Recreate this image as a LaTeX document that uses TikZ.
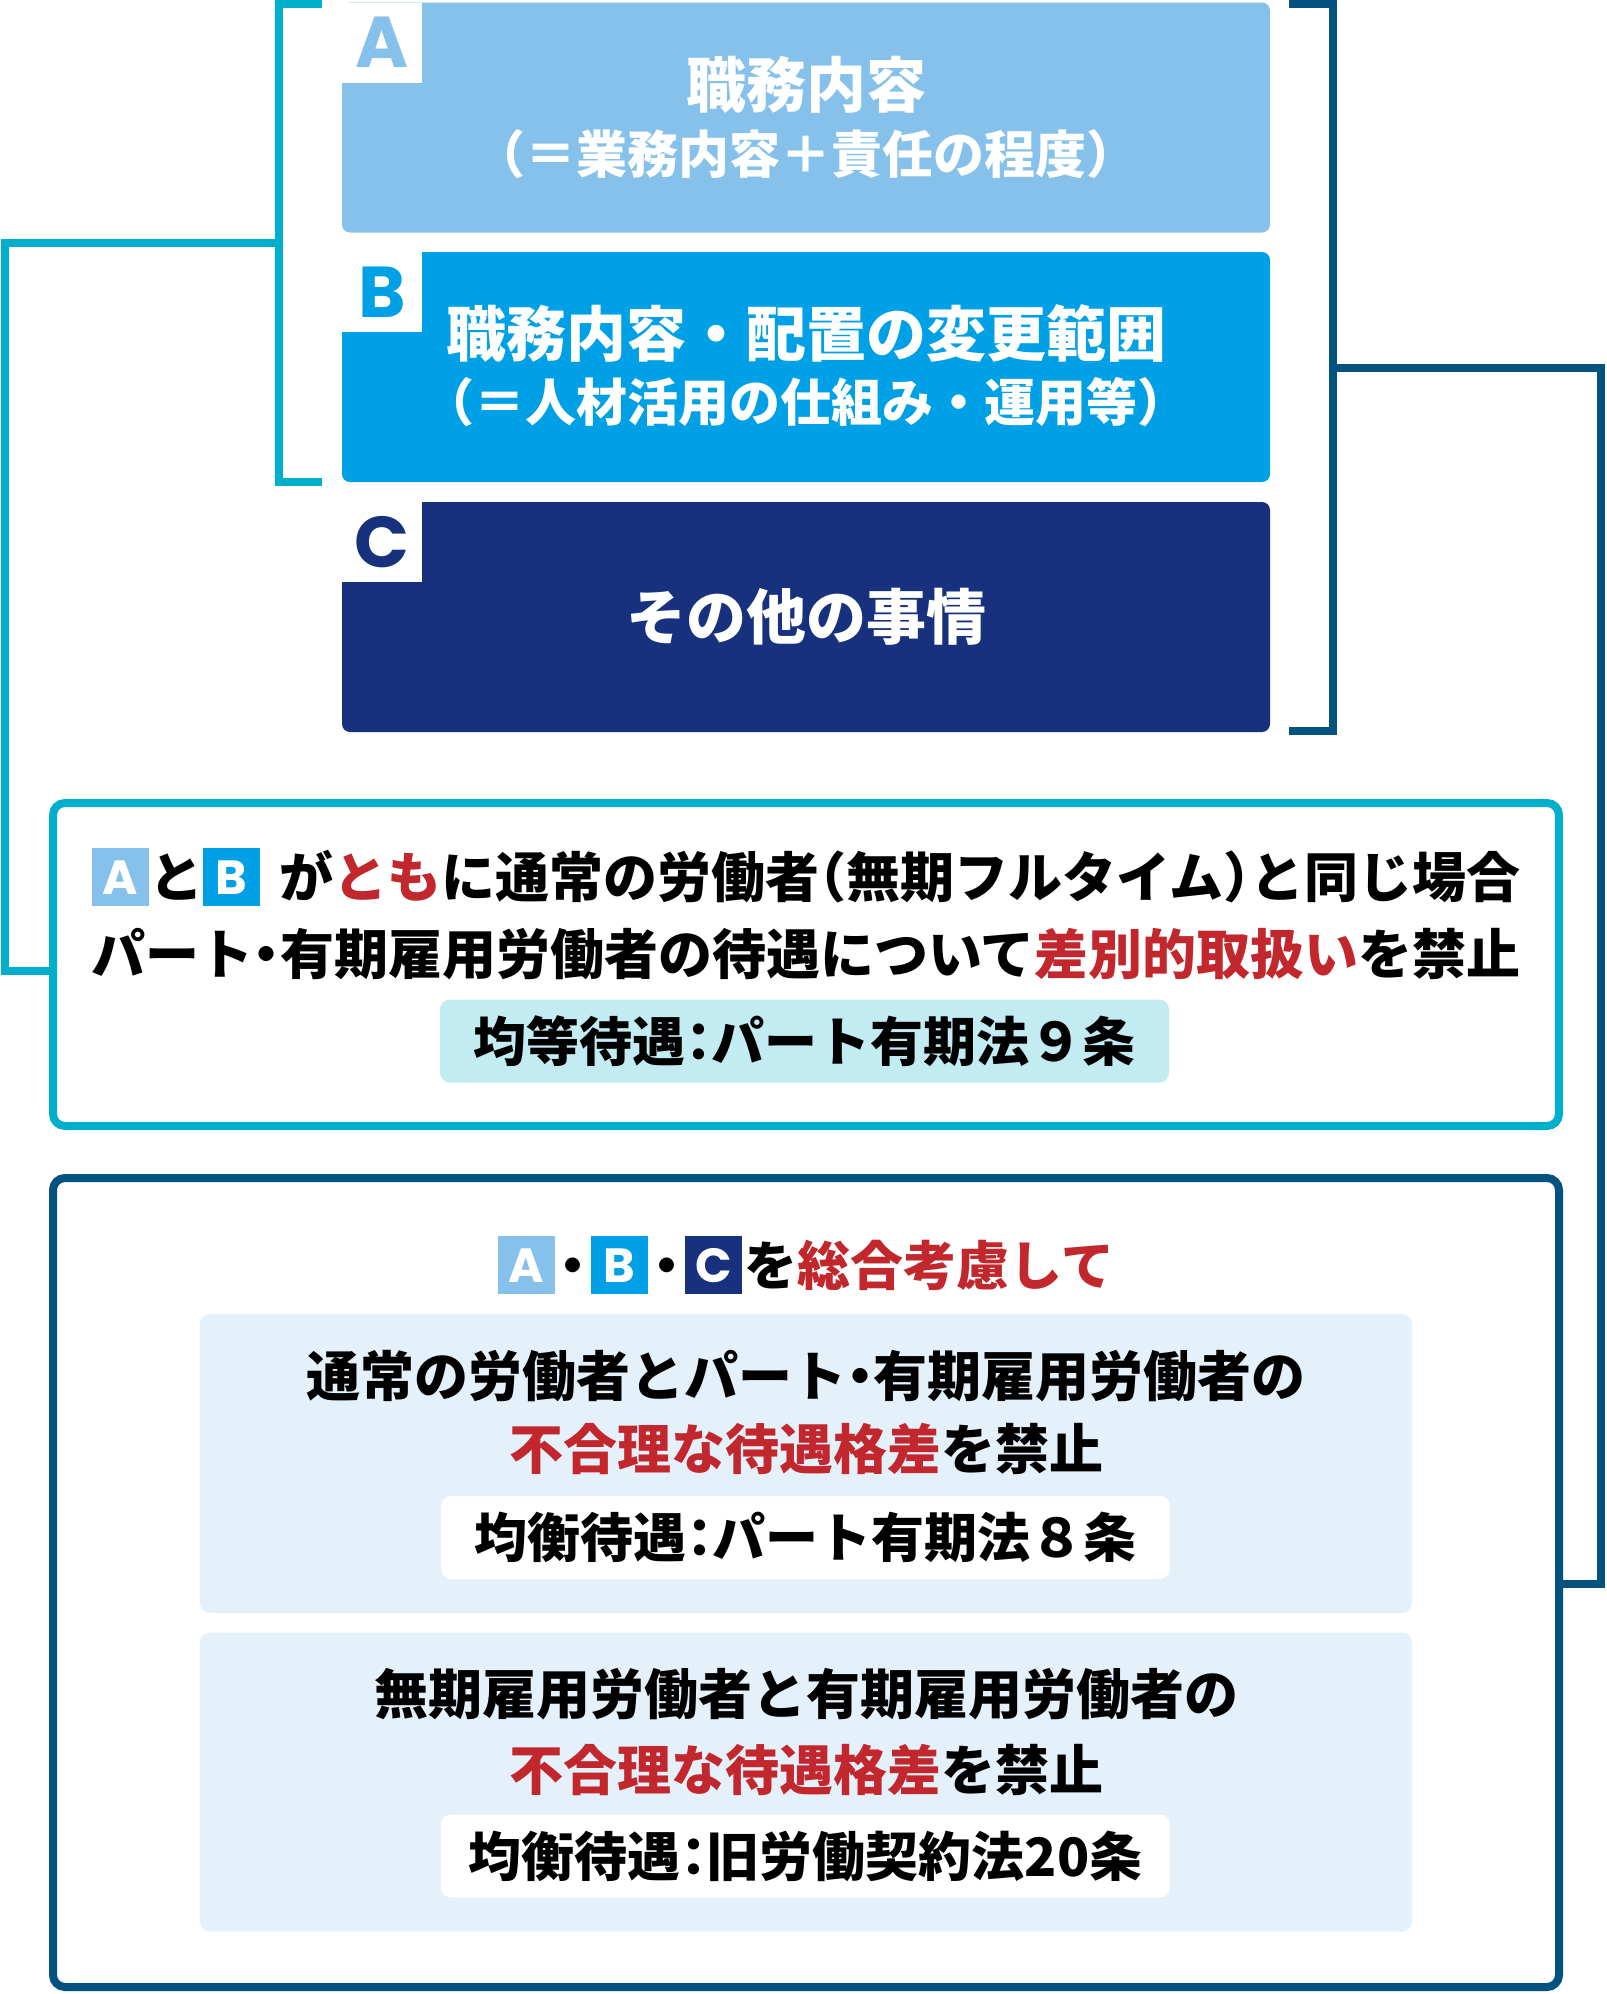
\documentclass[tikz,border=0pt]{standalone}
\usepackage{fontspec}
\usetikzlibrary{positioning}
\newfontfamily\jp{Noto Sans CJK JP}
\newfontfamily\jph{Noto Sans CJK JP}[RawFeature=+halt]
\newfontfamily\latinb{Poppins}
\definecolor{colA}{HTML}{85C1EA}
\definecolor{colB}{HTML}{00A0E6}
\definecolor{colC}{HTML}{17317F}
\definecolor{wireCyan}{HTML}{00AFCC}
\definecolor{wireNavy}{HTML}{04527F}
\definecolor{redtxt}{HTML}{C1272D}
\definecolor{eqbg}{HTML}{C2EBF2}
\definecolor{balbg}{HTML}{E4F0FA}
\newcommand\hw[1]{{\jph\bfseries #1}}
\newcommand\hl[1]{\textcolor{redtxt}{#1}}
\newcommand\tagsq[2]{\raisebox{-8.5pt}{\setlength{\fboxsep}{0pt}\colorbox{#1}{\makebox[57pt]{\rule{0pt}{58pt}\raisebox{12pt}{\fontsize{48}{48}\latinb\bfseries\color{white}#2}}}}}

\begin{document}
\begin{tikzpicture}[x=1pt,y=-1pt,
    cyanwire/.style={draw=wireCyan, line width=8pt},
    navywire/.style={draw=wireNavy, line width=8pt},
    factor/.style={rectangle, rounded corners=8pt, minimum width=928pt, minimum height=230pt, inner sep=0pt},
    tab/.style={rectangle, fill=white, minimum size=80pt, inner sep=0pt, font={\latinb\bfseries\fontsize{72}{72}\selectfont}},
    big/.style={inner sep=0pt, text=white, font={\jp\bfseries\fontsize{60}{60}\selectfont}},
    small/.style={inner sep=0pt, text=white, font={\jp\bfseries\fontsize{51}{51}\selectfont}},
    rulebox/.style={rectangle, rounded corners=12pt, line width=8pt, minimum width=1506pt, inner sep=0pt},
    line/.style={inner sep=0pt, font={\jp\bfseries\fontsize{54}{54}\selectfont}},
    law/.style={rectangle, rounded corners=10pt, minimum width=729pt, minimum height=83pt, inner sep=0pt, font={\jp\bfseries\fontsize{53}{53}\selectfont}},
    balbox/.style={rectangle, rounded corners=10pt, fill=balbg, minimum width=1212pt, minimum height=299pt}]
  \useasboundingbox (0,0) rectangle (1606,1994);

  % three factors
  \node[factor, fill=colA] (jobA) at (806,117.5) {};
  \node[factor, fill=colB] (jobB) at (806,367) {};
  \node[factor, fill=colC] (jobC) at (806,617) {};
  \node[tab, text=colA, anchor=north west] (tabA) at (jobA.north west) {A};
  \node[tab, text=colB, anchor=north west] (tabB) at (jobB.north west) {B};
  \node[tab, text=colC, anchor=north west] (tabC) at (jobC.north west) {C};
  \node[big] (jobA1) at (806,85) {職務内容};
  \node[small, below=15pt of jobA1] (jobA2) {\hw{（}＝業務内容＋責任の程度\hw{）}};
  \node[big] (jobB1) at (806,333) {職務内容・配置の変更範囲};
  \node[small, below=15pt of jobB1] (jobB2) {\hw{（}＝人材活用の仕組み・運用等\hw{）}};
  \node[big] (jobC1) at (806,617) {その他の事情};

  % brackets
  \draw[cyanwire] (322,4) -| (279,482) -- (322,482);
  \draw[navywire] (1289,4) -| (1333,731) -- (1289,731);

  % equal treatment
  \node[rulebox, draw=wireCyan, minimum height=323pt] (ruleEq) at (806,964.5) {};
  \node[line] (eq1) at (806,877) {\tagsq{colA}{A}と\tagsq{colB}{B}\hspace{19pt}が\hl{とも}に通常の労働者\hw{（}無期フルタイム\hw{）}と同じ場合};
  \node[line] (eq2) at (806,954) {パート\hw{・}有期雇用労働者の待遇について\hl{差別的取扱い}を禁止};
  \node[law, fill=eqbg] (eqLaw) at (804.5,1041) {均等待遇\hw{：}パート有期法９条};

  % balanced treatment
  \node[rulebox, draw=wireNavy, minimum height=809pt] (ruleBal) at (806,1582.5) {};
  \node[line, font={\jp\bfseries\fontsize{53}{53}\selectfont}] (balHead) at (806,1265) {\tagsq{colA}{A}\kern5pt\hw{・}\kern5pt\tagsq{colB}{B}\kern5pt\hw{・}\kern5pt\tagsq{colC}{C}\hspace{3pt}を\hl{総合考慮して}};
  \node[balbox] (balPart) at (806,1463.5) {};
  \node[line] (part1) at (806,1376) {通常の労働者とパート\hw{・}有期雇用労働者の};
  \node[line, below=21pt of part1] (part2) {\hl{不合理な待遇格差}を禁止};
  \node[law, fill=white] (partLaw) at (805.5,1537.5) {均衡待遇\hw{：}パート有期法８条};
  \node[balbox] (balFix) at (806,1782) {};
  \node[line] (fix1) at (806,1694) {無期雇用労働者と有期雇用労働者の};
  \node[line, below=24pt of fix1] (fix2) {\hl{不合理な待遇格差}を禁止};
  \node[law, fill=white] (fixLaw) at (805.5,1856) {均衡待遇\hw{：}旧労働契約法20条};

  % connectors
  \coordinate (lbMid) at (279,243);
  \coordinate (rbMid) at (1333,368);
  \draw[cyanwire] (lbMid) -- (5,243) |- ([yshift=-6.5pt]ruleEq.west);
  \draw[navywire] (rbMid) -- (1601,368) |- ([yshift=-1.5pt]ruleBal.east);
\end{tikzpicture}
\end{document}
